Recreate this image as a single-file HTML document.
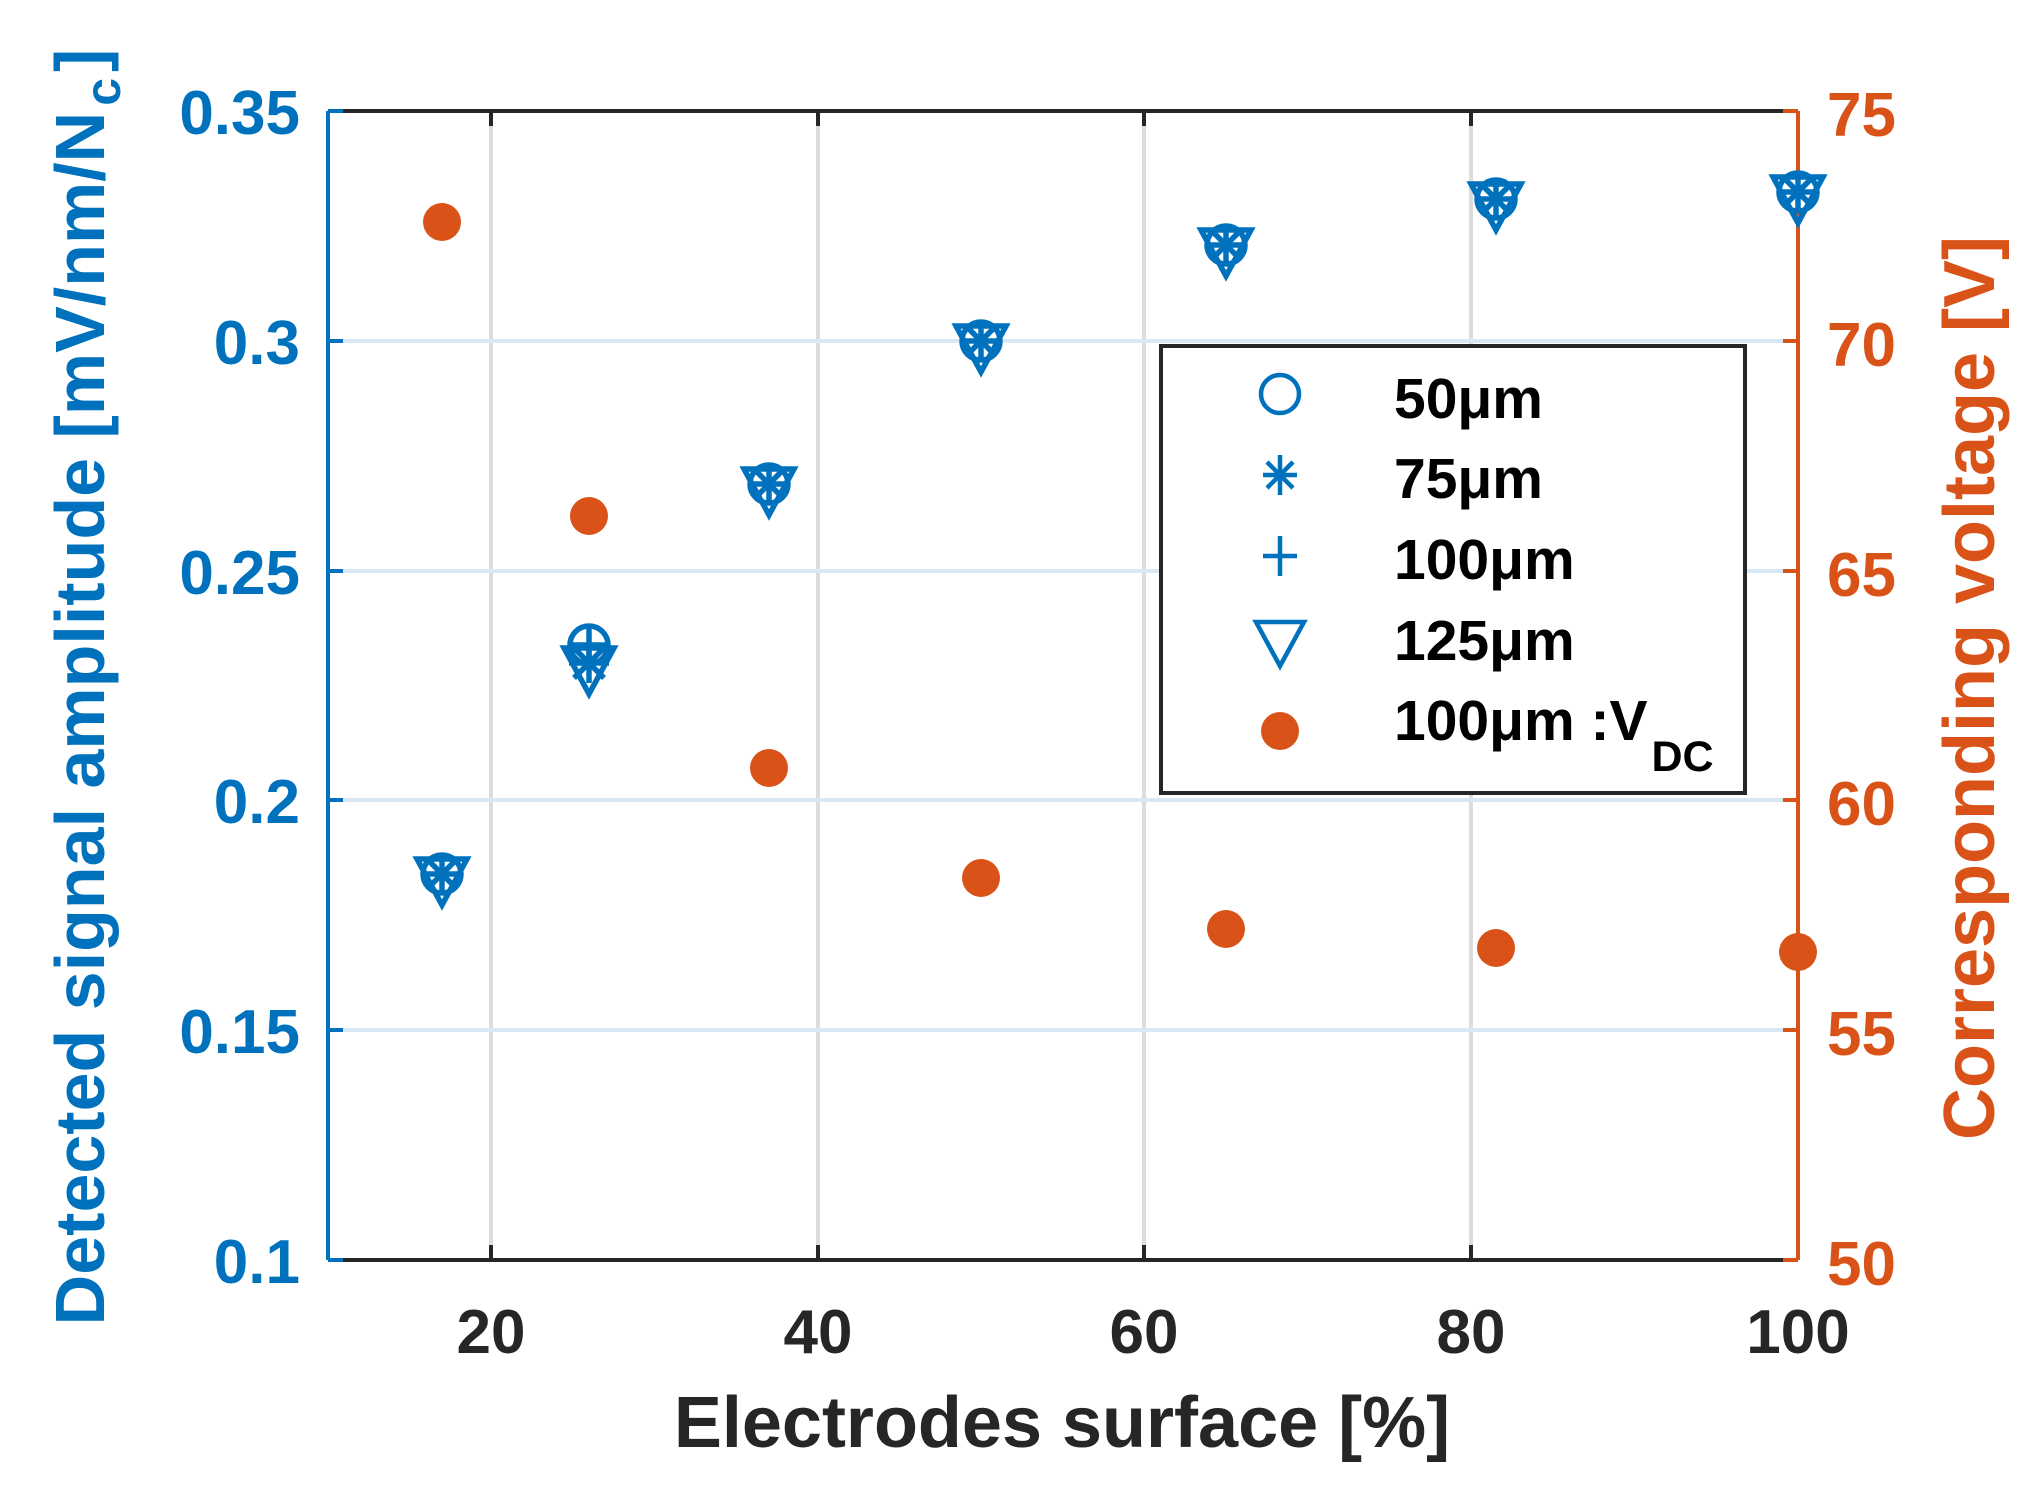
<!DOCTYPE html>
<html><head><meta charset="utf-8"><style>
html,body{margin:0;padding:0;background:#fff;}
svg{display:block;}
text{font-family:"Liberation Sans",Arial,sans-serif;font-weight:bold;}
</style></head><body>
<svg width="2043" height="1486" viewBox="0 0 2043 1486" xmlns="http://www.w3.org/2000/svg">
<defs>
<g id="m" fill="none" stroke="#0072BD" stroke-width="5.5">
  <circle r="19"/>
  <line x1="0" y1="-20" x2="0" y2="20"/>
  <line x1="-20" y1="0" x2="20" y2="0"/>
  <line x1="-15" y1="-15" x2="15" y2="15"/>
  <line x1="-15" y1="15" x2="15" y2="-15"/>
  <polygon points="-25,-15 25,-15 0,31"/>
</g>
</defs>
<g stroke="#dcdcdc" stroke-width="4">
  <line x1="491" y1="111" x2="491" y2="1260"/>
  <line x1="818" y1="111" x2="818" y2="1260"/>
  <line x1="1144" y1="111" x2="1144" y2="1260"/>
  <line x1="1471" y1="111" x2="1471" y2="1260"/>
</g>
<g stroke="#d8e8f4" stroke-width="4">
  <line x1="328" y1="341" x2="1798" y2="341"/>
  <line x1="328" y1="571" x2="1798" y2="571"/>
  <line x1="328" y1="800" x2="1798" y2="800"/>
  <line x1="328" y1="1030" x2="1798" y2="1030"/>
</g>
<g stroke="#262626" stroke-width="4">
  <line x1="328" y1="111" x2="1798" y2="111"/>
  <line x1="328" y1="1260" x2="1798" y2="1260"/>
  <line x1="491" y1="1260" x2="491" y2="1245"/><line x1="818" y1="1260" x2="818" y2="1245"/><line x1="1144" y1="1260" x2="1144" y2="1245"/><line x1="1471" y1="1260" x2="1471" y2="1245"/>
  <line x1="491" y1="111" x2="491" y2="126"/><line x1="818" y1="111" x2="818" y2="126"/><line x1="1144" y1="111" x2="1144" y2="126"/><line x1="1471" y1="111" x2="1471" y2="126"/>
</g>
<g stroke="#0072BD" stroke-width="4">
  <line x1="328" y1="111" x2="328" y2="1260"/>
  <line x1="328" y1="111" x2="343" y2="111"/><line x1="328" y1="341" x2="343" y2="341"/><line x1="328" y1="571" x2="343" y2="571"/><line x1="328" y1="800" x2="343" y2="800"/><line x1="328" y1="1030" x2="343" y2="1030"/><line x1="328" y1="1260" x2="343" y2="1260"/>
</g>
<g stroke="#D95319" stroke-width="4">
  <line x1="1798" y1="111" x2="1798" y2="1260"/>
  <line x1="1798" y1="111" x2="1783" y2="111"/><line x1="1798" y1="341" x2="1783" y2="341"/><line x1="1798" y1="571" x2="1783" y2="571"/><line x1="1798" y1="800" x2="1783" y2="800"/><line x1="1798" y1="1030" x2="1783" y2="1030"/><line x1="1798" y1="1260" x2="1783" y2="1260"/>
</g>
<g fill="#0072BD" font-size="62" text-anchor="end">
  <text x="300" y="134">0.35</text><text x="300" y="364">0.3</text><text x="300" y="594">0.25</text><text x="300" y="823">0.2</text><text x="300" y="1053">0.15</text><text x="300" y="1283">0.1</text>
</g>
<g fill="#D95319" font-size="62" text-anchor="start">
  <text x="1827" y="136">75</text><text x="1827" y="366">70</text><text x="1827" y="596">65</text><text x="1827" y="825">60</text><text x="1827" y="1055">55</text><text x="1827" y="1285">50</text>
</g>
<g fill="#262626" font-size="62" text-anchor="middle">
  <text x="491" y="1353">20</text><text x="818" y="1353">40</text><text x="1144" y="1353">60</text><text x="1471" y="1353">80</text><text x="1798" y="1353">100</text>
</g>
<text x="1062" y="1447" fill="#262626" font-size="72" text-anchor="middle">Electrodes surface [%]</text>
<text transform="translate(104,687) rotate(-90)" fill="#0072BD" font-size="70" text-anchor="middle">Detected signal amplitude [mV/nm/N<tspan font-size="50" dy="16" dx="6">c</tspan><tspan dy="-16" dx="6">]</tspan></text>
<text transform="translate(1994,688) rotate(-90)" fill="#D95319" font-size="72" text-anchor="middle">Corresponding voltage [V]</text>
<use href="#m" x="442" y="874"/>
<g fill="none" stroke="#0072BD" stroke-width="5.5">
  <circle cx="589" cy="645" r="19"/>
  <g transform="translate(589,663)">
    <line x1="0" y1="-20" x2="0" y2="20"/><line x1="-20" y1="0" x2="20" y2="0"/>
    <line x1="-15" y1="-15" x2="15" y2="15"/><line x1="-15" y1="15" x2="15" y2="-15"/>
    <polygon points="-25,-15 25,-15 0,31"/>
  </g>
  <line x1="589" y1="626" x2="589" y2="664"/><line x1="570" y1="645" x2="608" y2="645"/>
</g>
<use href="#m" x="769" y="484"/>
<use href="#m" x="981" y="341"/>
<use href="#m" x="1226" y="245"/>
<use href="#m" x="1496" y="199"/>
<use href="#m" x="1798" y="192"/>
<g fill="#D95319">
  <circle cx="442" cy="222" r="19"/>
  <circle cx="589" cy="516" r="19"/>
  <circle cx="769" cy="768" r="19"/>
  <circle cx="981" cy="878" r="19"/>
  <circle cx="1226" cy="929" r="19"/>
  <circle cx="1496" cy="948" r="19"/>
  <circle cx="1798" cy="952" r="19"/>
</g>
<rect x="1161" y="346" width="584" height="447" fill="#fff" stroke="#262626" stroke-width="4"/>
<g fill="none" stroke="#0072BD" stroke-width="4.5">
  <circle cx="1280" cy="394" r="19"/>
  <g transform="translate(1280,475)"><line x1="0" y1="-20" x2="0" y2="20"/><line x1="-17" y1="0" x2="17" y2="0"/><line x1="-13" y1="-13" x2="13" y2="13"/><line x1="-13" y1="13" x2="13" y2="-13"/></g>
  <g transform="translate(1280,556)"><line x1="0" y1="-20" x2="0" y2="20"/><line x1="-17" y1="0" x2="17" y2="0"/></g>
  <polygon points="1256,622 1304,622 1280,666"/>
</g>
<circle cx="1280" cy="731" r="19" fill="#D95319"/>
<g fill="#000" font-size="57">
  <text x="1394" y="418">50μm</text>
  <text x="1394" y="498">75μm</text>
  <text x="1394" y="579">100μm</text>
  <text x="1394" y="660">125μm</text>
  <text x="1394" y="740">100μm :V<tspan font-size="43" dy="31" dx="4">DC</tspan></text>
</g>
</svg>
</body></html>
